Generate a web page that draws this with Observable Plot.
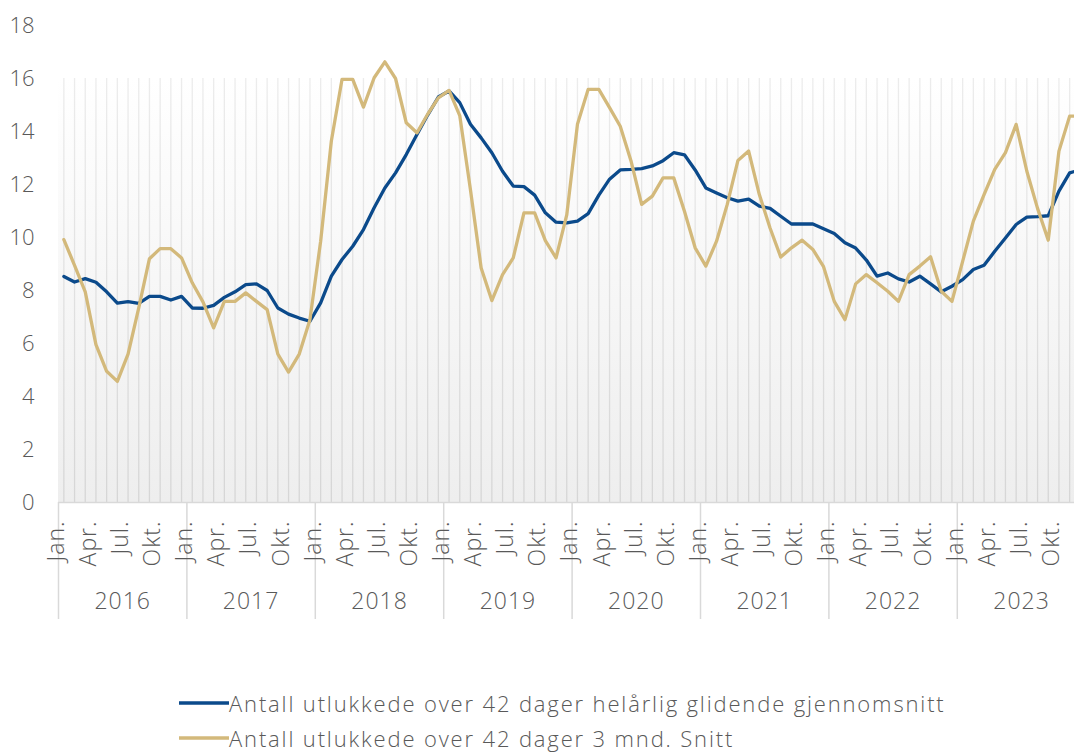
<!DOCTYPE html>
<html>
<head>
<meta charset="utf-8">
<script src="https://cdn.jsdelivr.net/npm/d3@7"></script>
<script src="https://cdn.jsdelivr.net/npm/@observablehq/plot@0.6"></script>
<style>
  body { margin: 0; background: #fff; }
  #wrap { position: relative; width: 1074px; height: 754px; overflow: hidden; font-family: "Open Sans", sans-serif; font-weight: 300; color: #595959; }
  #chart svg { overflow: hidden; }
  .lg { position: absolute; left: 179px; height: 24px; display: flex; align-items: center; font-size: 22px; letter-spacing: 1.85px; white-space: nowrap; line-height: 24px; }
  .lg svg { width: 50px; height: 6px; display: block; }
</style>
</head>
<body>
<div id="wrap">
  <div id="chart"></div>
</div>
<script>
// ---- data ----
const years = [2016, 2017, 2018, 2019, 2020, 2021, 2022, 2023];
const quarterLabels = ["Jan.", "Apr.", "Jul.", "Okt."];
const quarterMonths = [0, 3, 6, 9];
const yTicks = [0, 2, 4, 6, 8, 10, 12, 14, 16, 18];
const seriesNames = [
  "Antall utlukkede over 42 dager helårlig glidende gjennomsnitt",
  "Antall utlukkede over 42 dager 3 mnd. Snitt"
];
// helårlig glidende gjennomsnitt (blue)
const helarlig = [
  8.53, 8.32, 8.45, 8.31, 7.95, 7.52, 7.58, 7.51, 7.78, 7.78, 7.64, 7.78,
  7.34, 7.33, 7.44, 7.74, 7.95, 8.22, 8.25, 8.00, 7.34, 7.11, 6.96, 6.84,
  7.53, 8.54, 9.17, 9.67, 10.30, 11.12, 11.87, 12.44, 13.13, 13.89, 14.62, 15.30,
  15.53, 15.09, 14.27, 13.76, 13.20, 12.50, 11.94, 11.92, 11.60, 10.93, 10.58, 10.55,
  10.62, 10.90, 11.60, 12.20, 12.55, 12.57, 12.60, 12.70, 12.90, 13.20, 13.12, 12.55,
  11.87, 11.68, 11.50, 11.37, 11.45, 11.18, 11.10, 10.80, 10.51, 10.51, 10.51, 10.33,
  10.15, 9.80, 9.60, 9.15, 8.54, 8.66, 8.44, 8.32, 8.54, 8.25, 7.95, 8.16,
  8.41, 8.79, 8.95, 9.48, 9.98, 10.49, 10.77, 10.79, 10.82, 11.75, 12.44, 12.55
];
// 3 mnd. snitt (gold)
const snitt3mnd = [
  9.92, 8.95, 7.95, 5.96, 4.95, 4.57, 5.60, 7.34, 9.20, 9.58, 9.58, 9.23,
  8.29, 7.57, 6.59, 7.59, 7.59, 7.91, 7.59, 7.28, 5.60, 4.92, 5.60, 6.90,
  9.86, 13.64, 15.97, 15.97, 14.92, 16.03, 16.63, 16.00, 14.33, 13.95, 14.65, 15.27,
  15.55, 14.60, 11.80, 8.85, 7.62, 8.60, 9.23, 10.93, 10.93, 9.88, 9.23, 10.85,
  14.27, 15.59, 15.59, 14.90, 14.20, 12.90, 11.25, 11.56, 12.25, 12.25, 10.99, 9.61,
  8.92, 9.86, 11.25, 12.91, 13.26, 11.62, 10.36, 9.26, 9.61, 9.90, 9.55, 8.90,
  7.59, 6.90, 8.25, 8.60, 8.29, 7.97, 7.59, 8.60, 8.92, 9.27, 7.97, 7.59,
  9.10, 10.62, 11.62, 12.57, 13.20, 14.27, 12.50, 11.10, 9.90, 13.26, 14.58, 14.58
];
const bakgrunn = 16; // grey background column level

const blue = "#0b4a8b";
const gold = "#d3b97b";

// ---- tables ----
const rows = helarlig.map((v, i) => ({i, year: years[Math.floor(i / 12)], month: i % 12, blue: v, gold: snitt3mnd[i]}));
const quarterRows = rows.filter(d => quarterMonths.includes(d.month))
  .map(d => ({i: d.i, label: quarterLabels[quarterMonths.indexOf(d.month)]}));
const yearRows = years.map((y, k) => ({x: k * 12 + 5.5, label: String(y)}));
const yearEdges = d3.range(years.length + 1).map(k => k * 12 - 0.5);

const defs = () => {
  const ns = "http://www.w3.org/2000/svg";
  const g = document.createElementNS(ns, "defs");
  g.innerHTML = '<linearGradient id="bggrad" x1="0" y1="0" x2="0" y2="1">' +
    '<stop offset="0" stop-color="#ffffff"/><stop offset="1" stop-color="#eeeeee"/></linearGradient>' +
    '<linearGradient id="rulegrad" gradientUnits="userSpaceOnUse" x1="0" y1="78" x2="0" y2="502">' +
    '<stop offset="0" stop-color="#ececec"/><stop offset="1" stop-color="#d6d6d6"/></linearGradient>';
  return g;
};

const chart = Plot.plot({
  width: 1074,
  height: 640,
  marginTop: 25,
  marginBottom: 138,
  marginLeft: 58,
  marginRight: 0,
  style: {fontFamily: '"Open Sans", sans-serif', fontSize: "22px", color: "#595959", background: "transparent", fontWeight: 300},
  x: {type: "linear", domain: [-0.5, 95.5], range: [58, 58 + 96 * 10.7], axis: null},
  y: {domain: [0, 18], ticks: yTicks, tickSize: 0, tickPadding: 24, label: null},
  marks: [
    defs,
    Plot.rectY([{x1: -0.5, x2: 95.5, y: bakgrunn}], {x1: "x1", x2: "x2", y: "y", fill: "url(#bggrad)"}),
    Plot.ruleX(rows, {x: "i", y1: 0, y2: bakgrunn, stroke: "url(#rulegrad)", strokeWidth: 1.3}),
    Plot.ruleY([0], {stroke: "#d9d9d9", strokeWidth: 1.5}),
    Plot.ruleX(yearEdges, {x: d => d, insetTop: 477, insetBottom: -117, stroke: "#d9d9d9", strokeWidth: 1.5}),
    Plot.text(quarterRows, {x: "i", text: "label", frameAnchor: "bottom", rotate: -90, textAnchor: "end", dy: 18, fill: "#595959", fontSize: 23}),
    Plot.text(yearRows, {x: "x", text: "label", frameAnchor: "bottom", dy: 106, fill: "#595959", fontSize: 23}),
    Plot.line(rows, {x: "i", y: "blue", stroke: blue, strokeWidth: 3.3, strokeLinejoin: "round"}),
    Plot.line(rows, {x: "i", y: "gold", stroke: gold, strokeWidth: 3.3, strokeLinejoin: "round"})
  ]
});
document.getElementById("chart").appendChild(chart);
// letter spacing on category labels
chart.querySelectorAll("g[aria-label='text'] text").forEach(t => t.style.letterSpacing = "1px");

// ---- legend ----
const wrap = document.getElementById("wrap");
[[seriesNames[0], blue, 691], [seriesNames[1], gold, 726]].forEach(([name, color, top]) => {
  const row = document.createElement("div");
  row.className = "lg";
  row.style.top = top + "px";
  row.innerHTML = `<svg viewBox="0 0 50 6"><line x1="0" y1="3" x2="50" y2="3" stroke="${color}" stroke-width="3.3"/></svg><span>${name}</span>`;
  wrap.appendChild(row);
});
</script>
</body>
</html>
